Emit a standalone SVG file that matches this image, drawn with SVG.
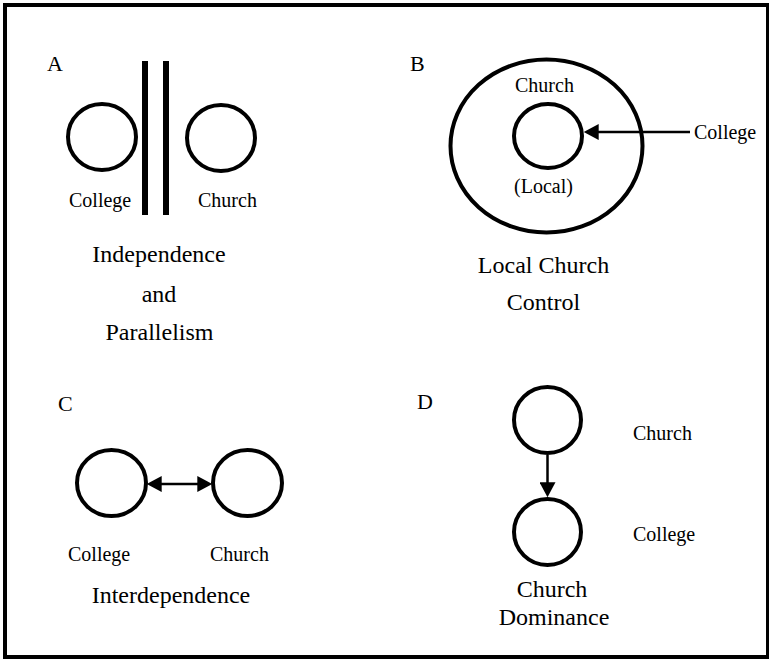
<svg xmlns="http://www.w3.org/2000/svg" width="770" height="661" viewBox="0 0 770 661">
<style>
  text { font-family: "Liberation Serif", "Times New Roman", serif; fill: #000; }
  .letter { font-size: 22px; }
  .label { font-size: 20px; }
  .title { font-size: 24px; text-anchor: middle; }
  .node { fill: none; stroke: #000; stroke-width: 4; }
  .conn { stroke: #000; stroke-width: 2.5; fill: none; }
  .frame { stroke: #000; fill: none; }
</style>
<defs>
  <marker id="arrow" markerUnits="userSpaceOnUse" markerWidth="16" markerHeight="16" viewBox="0 0 14 15" refX="10" refY="7.5" orient="auto-start-reverse">
    <path d="M0,0 L14,7.5 L0,15 z" fill="#000"/>
  </marker>
</defs>
<rect width="770" height="661" fill="#fff"/>
<g id="frame">
  <line class="frame" x1="5" y1="3" x2="5" y2="659" stroke-width="4"/>
  <line class="frame" x1="3" y1="5" x2="769" y2="5" stroke-width="4"/>
  <line class="frame" x1="767.5" y1="3" x2="767.5" y2="659" stroke-width="3"/>
  <line class="frame" x1="3" y1="657" x2="769" y2="657" stroke-width="4"/>
</g>

<!-- Panel A -->
<g id="panel-a">
  <text class="letter" x="47" y="71">A</text>
  <g id="a-college">
    <ellipse class="node" cx="102" cy="137" rx="34" ry="33"/>
    <text class="label" x="69" y="207">College</text>
  </g>
  <g id="a-barrier">
    <rect x="142" y="61" width="6" height="154" fill="#000"/>
    <rect x="163" y="61" width="6" height="154" fill="#000"/>
  </g>
  <g id="a-church">
    <ellipse class="node" cx="221" cy="138" rx="34" ry="33"/>
    <text class="label" x="198" y="207">Church</text>
  </g>
  <text class="title" x="159" y="262">Independence</text>
  <text class="title" x="159" y="302">and</text>
  <text class="title" x="159.5" y="340">Parallelism</text>
</g>

<!-- Panel B -->
<g id="panel-b">
  <text class="letter" x="410" y="71">B</text>
  <g id="b-church">
    <ellipse class="node" cx="546.5" cy="146" rx="96" ry="86.5" stroke-width="5"/>
    <text class="label" x="515" y="92">Church</text>
  </g>
  <g id="b-local">
    <ellipse class="node" cx="548" cy="136" rx="34" ry="32"/>
    <text class="label" x="514" y="193">(Local)</text>
  </g>
  <g id="b-college">
    <text class="label" x="694" y="139">College</text>
  </g>
  <text class="title" x="543.5" y="273">Local Church</text>
  <text class="title" x="543.5" y="310">Control</text>
</g>

<!-- Panel C -->
<g id="panel-c">
  <text class="letter" x="58" y="411">C</text>
  <g id="c-college">
    <ellipse class="node" cx="111.5" cy="483" rx="34.5" ry="33"/>
    <text class="label" x="68" y="561">College</text>
  </g>
  <g id="c-church">
    <ellipse class="node" cx="247.5" cy="483" rx="34.5" ry="33"/>
    <text class="label" x="210" y="561">Church</text>
  </g>
  <text class="title" x="171" y="603">Interdependence</text>
</g>

<!-- Panel D -->
<g id="panel-d">
  <text class="letter" x="417" y="409">D</text>
  <g id="d-church">
    <ellipse class="node" cx="547.5" cy="420" rx="33.5" ry="33"/>
    <text class="label" x="633" y="440">Church</text>
  </g>
  <g id="d-college">
    <ellipse class="node" cx="547.5" cy="532" rx="33.5" ry="33"/>
    <text class="label" x="633" y="541">College</text>
  </g>
  <text class="title" x="552" y="597">Church</text>
  <text class="title" x="554" y="625">Dominance</text>
</g>

<g id="connectors">
  <line class="conn" x1="690" y1="132" x2="588" y2="132" marker-end="url(#arrow)"/>
  <line class="conn" x1="151" y1="484" x2="208" y2="484" marker-start="url(#arrow)" marker-end="url(#arrow)"/>
  <line class="conn" x1="547.5" y1="455" x2="547.5" y2="493" marker-end="url(#arrow)"/>
</g>
</svg>
